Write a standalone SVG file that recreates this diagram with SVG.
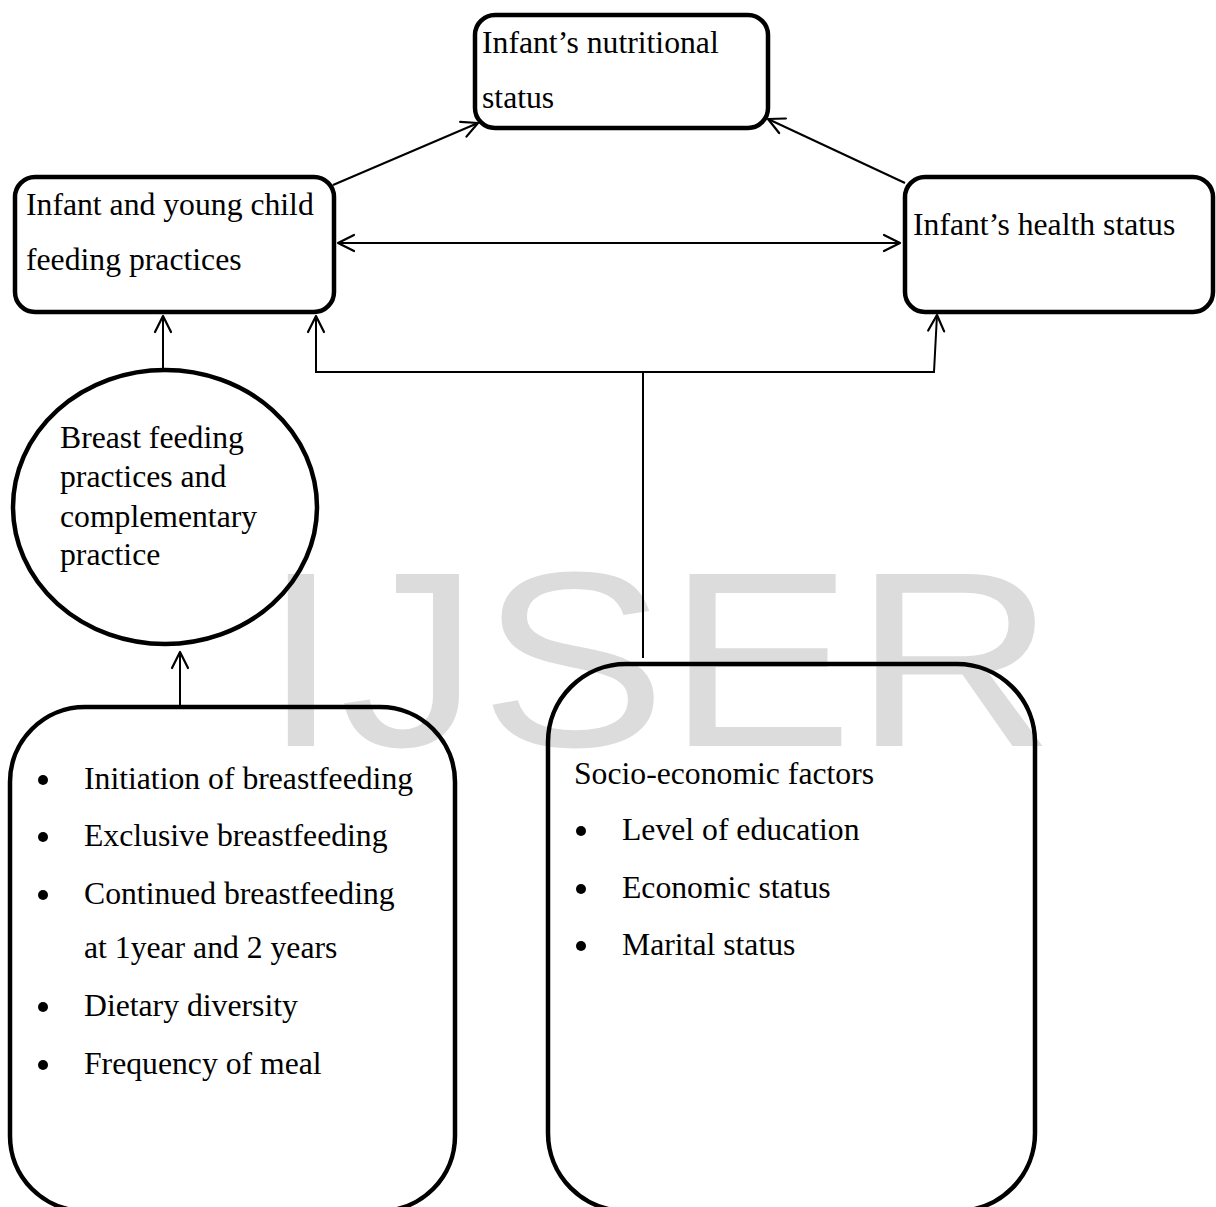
<svg xmlns="http://www.w3.org/2000/svg" width="1216" height="1207" viewBox="0 0 1216 1207">
<defs>
<marker id="arr" viewBox="0 0 20 20" refX="18" refY="10" markerWidth="20" markerHeight="20" markerUnits="userSpaceOnUse" orient="auto-start-reverse">
<path d="M2,2 L18,10 L2,18" fill="none" stroke="#000" stroke-width="2.2" stroke-linecap="round" stroke-linejoin="round"/>
</marker>
<style>
.box{fill:none;stroke:#000;stroke-width:4.5}
.big{fill:none;stroke:#000;stroke-width:4.5}
.t{font-family:"Liberation Serif","Times New Roman",serif;font-size:31.7px;fill:#000}
.c{fill:none;stroke:#000;stroke-width:2}
.wm{font-family:"Liberation Sans",Arial,sans-serif;font-size:250px;fill:#dcdcdc}
</style>
</defs>
<rect width="1216" height="1207" fill="#fff"/>
<text class="wm" transform="translate(262,746) scale(1.12,1)">IJSER</text>

<g id="nutritional">
<rect class="box" x="475" y="15" width="293" height="113" rx="20"/>
<text class="t" x="482" y="53">Infant’s nutritional</text>
<text class="t" x="482" y="108">status</text>
</g>
<g id="iycf">
<rect class="box" x="15" y="177" width="319" height="135" rx="20"/>
<text class="t" x="26" y="215">Infant and young child</text>
<text class="t" x="26" y="270">feeding practices</text>
</g>
<g id="health">
<rect class="box" x="905" y="177" width="308" height="135" rx="20"/>
<text class="t" x="913" y="235">Infant’s health status</text>
</g>
<g id="breastfeeding">
<ellipse class="box" cx="165" cy="507" rx="152" ry="137"/>
<text class="t" x="60" y="448">Breast feeding</text>
<text class="t" x="60" y="487">practices and</text>
<text class="t" x="60" y="527">complementary</text>
<text class="t" x="60" y="565">practice</text>
</g>
<g id="practices">
<rect class="big" x="10" y="707" width="445" height="504" rx="75"/>
<circle cx="43" cy="780" r="5"/>
<text class="t" x="84" y="789">Initiation of breastfeeding</text>
<circle cx="43" cy="837" r="5"/>
<text class="t" x="84" y="846">Exclusive breastfeeding</text>
<circle cx="43" cy="895" r="5"/>
<text class="t" x="84" y="904">Continued breastfeeding</text>
<text class="t" x="84" y="958">at 1year and 2 years</text>
<circle cx="43" cy="1007" r="5"/>
<text class="t" x="84" y="1016">Dietary diversity</text>
<circle cx="43" cy="1065" r="5"/>
<text class="t" x="84" y="1074">Frequency of meal</text>
</g>
<g id="socio">
<rect class="big" x="548" y="664" width="487" height="547" rx="78"/>
<text class="t" x="574" y="784">Socio-economic factors</text>
<circle cx="581" cy="831" r="5"/>
<text class="t" x="622" y="840">Level of education</text>
<circle cx="581" cy="889" r="5"/>
<text class="t" x="622" y="898">Economic status</text>
<circle cx="581" cy="946" r="5"/>
<text class="t" x="622" y="955">Marital status</text>
</g>

<g id="connectors">
<line class="c" x1="333" y1="185" x2="478" y2="123" marker-end="url(#arr)"/>
<line class="c" x1="905" y1="183" x2="768" y2="119" marker-end="url(#arr)"/>
<line class="c" x1="338" y1="243" x2="900" y2="243" marker-start="url(#arr)" marker-end="url(#arr)"/>
<line class="c" x1="163" y1="370" x2="163" y2="316" marker-end="url(#arr)"/>
<line class="c" x1="180" y1="707" x2="180" y2="652" marker-end="url(#arr)"/>
<line class="c" x1="643" y1="658" x2="643" y2="372"/>
<path class="c" d="M643,372 H316 V316" marker-end="url(#arr)"/>
<path class="c" d="M643,372 H934 L937,315" marker-end="url(#arr)"/>
</g>
</svg>
